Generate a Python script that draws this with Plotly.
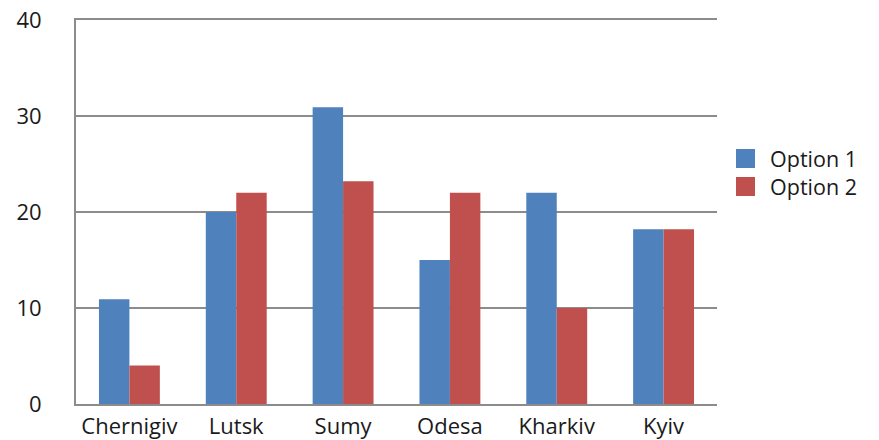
import plotly.graph_objects as go

categories = ["Chernigiv", "Lutsk", "Sumy", "Odesa", "Kharkiv", "Kyiv"]
option1 = [10.9, 20, 30.9, 15, 22, 18.2]
option2 = [4, 22, 23.2, 22, 10, 18.2]
series_names = ["Option 1", "Option 2"]
colors = ["#4F81BD", "#C0504D"]
y_ticks = [0, 10, 20, 30, 40]

FONT = "Open Sans, sans-serif"
FS = 22
L, R, T, B = 76, 717, 20, 404
PW, PH = R - L, B - T
W, H = 879, 440

fig = go.Figure()
for name, vals, col in zip(series_names, [option1, option2], colors):
    fig.add_trace(go.Bar(x=categories, y=vals, name=name, marker_color=col,
                         marker_line_width=0, showlegend=False))

# custom legend (large squares like the reference)
for i, col in enumerate(colors):
    y0 = 149 + i * 28
    fig.add_shape(type="rect", xref="paper", yref="paper",
                  x0=(736 - L) / PW, x1=(755 - L) / PW,
                  y0=(B - (y0 + 19)) / PH, y1=(B - y0) / PH,
                  fillcolor=col, line_width=0)
fig.add_annotation(text="<br>".join(series_names), xref="paper", yref="paper",
                   x=(768 - L) / PW, y=(B - 172.5) / PH, align="left",
                   xanchor="left", yanchor="middle", showarrow=False,
                   font=dict(size=21.5, color="#1a1a1a", family=FONT))

fig.update_layout(
    width=W, height=H,
    margin=dict(l=L, r=W - R, t=T, b=H - B),
    plot_bgcolor="white", paper_bgcolor="white",
    barmode="group", bargap=0.43, bargroupgap=0,
    font=dict(family=FONT, size=FS, color="#1a1a1a"),
)
fig.update_xaxes(showgrid=False, showline=True, linecolor="#8c8c8c", linewidth=2,
                 mirror=True, ticks="", ticklabelstandoff=2, automargin=False,
                 ticklabeloverflow="allow")
fig.update_yaxes(range=[0, 40], tickvals=y_ticks, showgrid=True, gridcolor="#8c8c8c",
                 gridwidth=2, showline=True, linecolor="#8c8c8c", linewidth=2,
                 zeroline=False, ticks="", ticklabelstandoff=28, automargin=False,
                 ticklabeloverflow="allow")

fig.write_html("out.html", config={"displayModeBar": False},
               post_script="document.body.style.margin='0';document.body.style.overflow='hidden';")
